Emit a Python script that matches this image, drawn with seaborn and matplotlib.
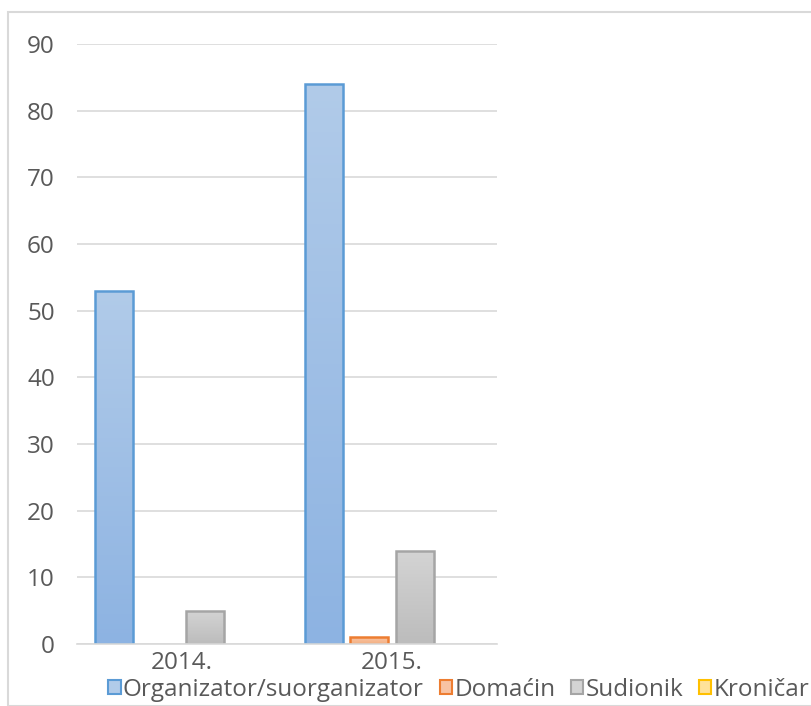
import matplotlib
matplotlib.use("Agg")
import matplotlib.pyplot as plt
import matplotlib.patches as mpatches
from matplotlib.colors import LinearSegmentedColormap
import numpy as np
import pandas as pd
import seaborn as sns

years = ["2014.", "2015."]
roles = ["Organizator/suorganizator", "Domaćin", "Sudionik", "Kroničar"]
organizator = [53, 84]
domacin = [0, 1]
sudionik = [5, 14]
kronicar = [0, 0]

edge_colors = ["#5b9bd5", "#ed7d31", "#a5a5a5", "#ffc000"]
top_colors = ["#b1cbe9", "#f8c3a3", "#d4d4d4", "#ffe29a"]
bot_colors = ["#8db3e2", "#f4b183", "#bcbcbc", "#ffd966"]

rows = []
for i, y in enumerate(years):
    for r, vals in zip(roles, [organizator, domacin, sudionik, kronicar]):
        rows.append({"year": y, "role": r, "value": vals[i]})
df = pd.DataFrame(rows)

sns.set_theme(style="white")
plt.rcParams["font.family"] = ["Open Sans", "DejaVu Sans"]

FS = 17.5
W, H = 812, 706
fig = plt.figure(figsize=(W / 100, H / 100), dpi=100)
ax = fig.add_axes([77 / W, 62 / H, 420 / W, 600 / H])

sns.barplot(data=df, x="year", y="value", hue="role", hue_order=roles,
            order=years, palette=top_colors, width=0.867, gap=0.165,
            ax=ax, legend=False, errorbar=None)

ax.set_ylim(0, 90)
ax.set_xlim(-0.5, 1.5)
ax.set_yticks(np.arange(0, 91, 10))
ax.yaxis.grid(True, color="#d9d9d9", linewidth=1.2)
ax.set_axisbelow(True)
for s in ["top", "right", "left"]:
    ax.spines[s].set_visible(False)
ax.spines["bottom"].set_color("#d9d9d9")
ax.spines["bottom"].set_linewidth(1.2)
ax.tick_params(axis="both", length=0, labelsize=FS, colors="#595959")
ax.tick_params(axis="x", pad=5)
ax.tick_params(axis="y", pad=16)
ax.set_xlabel("")
ax.set_ylabel("")

# style bars with gradient fill and coloured edges
n_years = len(years)
for idx, patch in enumerate(ax.patches):
    hue_i = idx // n_years
    patch.set_edgecolor(edge_colors[hue_i])
    patch.set_linewidth(1.8)
    x0, y0 = patch.get_x(), patch.get_y()
    w, h = patch.get_width(), patch.get_height()
    if h <= 0:
        patch.set_visible(False)
        continue
    cmap = LinearSegmentedColormap.from_list("g", [bot_colors[hue_i], top_colors[hue_i]])
    grad = np.linspace(0, 1, 256).reshape(-1, 1)
    im = ax.imshow(grad, extent=[x0, x0 + w, y0, y0 + h], origin="lower",
                   cmap=cmap, aspect="auto", zorder=patch.get_zorder() - 0.01)
    im.set_clip_path(patch)
    patch.set_facecolor("none")
ax.set_xlim(-0.5, 1.5)
ax.set_ylim(0, 90)

handles = [mpatches.Patch(facecolor=top_colors[i], edgecolor=edge_colors[i],
                          linewidth=1.5, label=roles[i]) for i in range(4)]
fig.legend(handles=handles, loc="center", bbox_to_anchor=(459 / W, 1 - 690 / H),
           ncol=4, frameon=False, fontsize=FS, labelcolor="#595959",
           handlelength=0.5, handleheight=0.5, handletextpad=0.1,
           columnspacing=0.65, borderpad=0)

fig.patches.append(mpatches.Rectangle((8 / W, 0), 1, 1 - 12 / H, transform=fig.transFigure,
                                      fill=False, edgecolor="#d9d9d9", linewidth=1.5))

fig.savefig("out.png", dpi=100)
